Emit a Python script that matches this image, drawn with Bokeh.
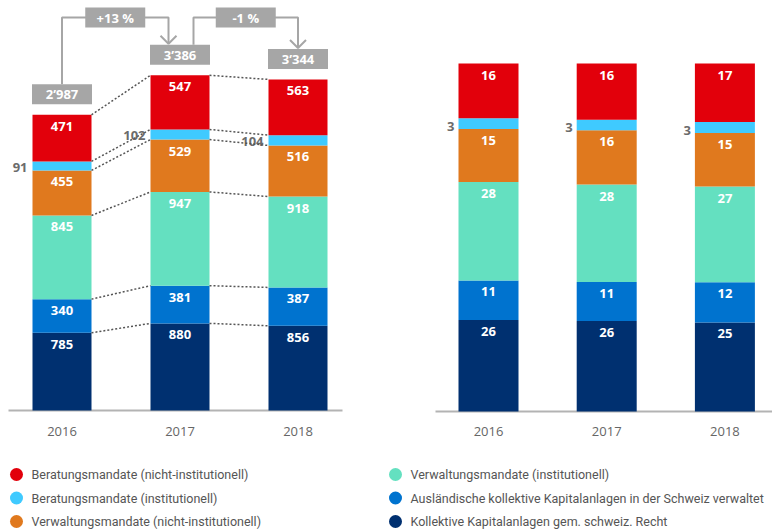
from bokeh.plotting import figure
from bokeh.models import Range1d
from bokeh.embed import file_html
from bokeh.resources import INLINE
from bokeh.core.properties import value

# ---------------- data ----------------
years = ["2016", "2017", "2018"]
names = [
    "Kollektive Kapitalanlagen gem. schweiz. Recht",
    "Ausländische kollektive Kapitalanlagen in der Schweiz verwaltet",
    "Verwaltungsmandate (institutionell)",
    "Verwaltungsmandate (nicht-institutionell)",
    "Beratungsmandate (institutionell)",
    "Beratungsmandate (nicht-institutionell)",
]
colors = ["#003070", "#0073cf", "#64e0c0", "#e0791e", "#3fcaff", "#e2000b"]

navy = [785, 880, 856]
blue = [340, 381, 387]
teal = [845, 947, 918]
orange = [455, 529, 516]
lblue = [91, 102, 104]
red = [471, 547, 563]
values_abs = [navy, blue, teal, orange, lblue, red]

total_labels = ["2’987", "3’386", "3’344"]
growth_labels = ["+13 %", "-1 %"]

pct_navy = [26, 26, 25]
pct_blue = [11, 11, 12]
pct_teal = [28, 28, 27]
pct_orange = [15, 16, 15]
pct_lblue = [3, 3, 3]
pct_red = [16, 16, 17]
pct_labels = [pct_navy, pct_blue, pct_teal, pct_orange, pct_lblue, pct_red]

legend_col1 = [5, 4, 3]
legend_col2 = [2, 1, 0]

# ---------------- layout ----------------
W, H = 772, 529
K = 0.099      # px per unit (left chart)
KR = 3.48      # px per percent (right chart)
BASE_L = 410   # page y of left baseline
BASE_R = 411   # page y of right baseline

def ly(page_y):
    return (BASE_L - page_y) / K

def px(page_x):
    return page_x

p = figure(width=W, height=H, output_backend="svg", toolbar_location=None,
           x_range=Range1d(0, W),
           y_range=Range1d(ly(H), ly(0)),
           min_border=0, outline_line_color=None)
p.extra_y_ranges = {"pct": Range1d(-(H - BASE_R) / KR, BASE_R / KR)}
p.axis.visible = False
p.grid.visible = False
p.background_fill_color = None
p.border_fill_color = "white"

FONT = value("Open Sans")
BAR_W = 59
left_c = [px(61.5) + i * 118 for i in range(3)]
right_c = [px(488) + i * 118.2 for i in range(3)]

# baselines
p.segment(x0=[px(8)], x1=[px(342)], y0=[0], y1=[0], line_color="#b3b3b3", line_width=2)
p.segment(x0=[px(435)], x1=[W], y0=[0], y1=[0], line_color="#b3b3b3", line_width=2,
          y_range_name="pct")

# ---- left stacked bars ----
cum = [[0, 0, 0]]
for s in values_abs:
    cum.append([cum[-1][i] + s[i] for i in range(3)])

for j, s in enumerate(values_abs):
    bottoms = cum[j]
    tops = cum[j + 1]
    p.vbar(x=left_c, width=BAR_W, bottom=bottoms, top=tops,
           fill_color=colors[j], line_color=None)
    if j == 4:
        p.text(x=[c - BAR_W / 2 - 5 for c in left_c],
               y=[(b + t) / 2 - 1.5 / K for b, t in zip(bottoms, tops)],
               text=[str(v) for v in s], text_align="right", text_baseline="middle",
               text_font=FONT, text_font_size="13px", text_font_style="bold",
               text_color="#6b6b6b")
    else:
        p.text(x=left_c, y=[t - 11.5 / K for t in tops],
               text=[str(v) for v in s], text_align="center", text_baseline="middle",
               text_font=FONT, text_font_size="13px", text_font_style="bold",
               text_color="white")

# dotted connectors
for i in range(2):
    x0s, x1s, y0s, y1s = [], [], [], []
    for j in range(1, 7):
        x0s.append(left_c[i] + BAR_W / 2)
        x1s.append(left_c[i + 1] - BAR_W / 2)
        y0s.append(cum[j][i])
        y1s.append(cum[j][i + 1])
    p.segment(x0=x0s, x1=x1s, y0=y0s, y1=y1s, line_color="#555555",
              line_width=1.5, line_dash="2 2")

# total boxes
totals = cum[6]
GAP, BOXH = 10.5, 20
box_bot = [t + GAP / K for t in totals]
box_top = [b + BOXH / K for b in box_bot]
p.quad(left=[c - 30 for c in left_c], right=[c + 30 for c in left_c],
       bottom=box_bot, top=box_top, fill_color="#a6a6a6", line_color=None)
p.text(x=left_c, y=[(b + t) / 2 for b, t in zip(box_bot, box_top)], text=total_labels,
       text_align="center", text_baseline="middle", text_font=FONT,
       text_font_size="13px", text_font_style="bold", text_color="white")

# growth connectors
GREY = "#a6a6a6"
y_h = ly(17)
starts = [left_c[0], left_c[1] + 13.5]
ends = [left_c[1] - 11.5, left_c[2]]
for g in range(2):
    xs, xe = starts[g], ends[g]
    tip = box_top[g + 1] + 1 / K
    p.line(x=[xs, xs, xe, xe], y=[box_top[g], y_h, y_h, tip],
           line_color=GREY, line_width=2)
    p.line(x=[xe - 8, xe, xe + 8], y=[tip + 8 / K, tip, tip + 8 / K],
           line_color=GREY, line_width=2)
    mid = (xs + xe) / 2
    p.quad(left=[mid - 30], right=[mid + 30], bottom=[y_h - 10 / K], top=[y_h + 10 / K],
           fill_color=GREY, line_color=None)
    p.text(x=[mid], y=[y_h], text=[growth_labels[g]], text_align="center",
           text_baseline="middle", text_font=FONT, text_font_size="13px",
           text_font_style="bold", text_color="white")

# ---- right stacked bars (shares) ----
cum_p = [[0.0, 0.0, 0.0]]
for s in values_abs:
    cum_p.append([cum_p[-1][i] + s[i] / totals[i] * 100 for i in range(3)])

for j, lab in enumerate(pct_labels):
    bottoms = cum_p[j]
    tops = cum_p[j + 1]
    p.vbar(x=right_c, width=60, bottom=bottoms, top=tops, fill_color=colors[j],
           line_color=None, y_range_name="pct")
    if j == 4:
        p.text(x=[c - 30 - 4 for c in right_c],
               y=[(b + t) / 2 - 2.5 / KR for b, t in zip(bottoms, tops)],
               text=[str(v) for v in lab], text_align="right", text_baseline="middle",
               text_font=FONT, text_font_size="13px", text_font_style="bold",
               text_color="#6b6b6b", y_range_name="pct")
    else:
        p.text(x=right_c, y=[t - 11.5 / KR for t in tops],
               text=[str(v) for v in lab], text_align="center", text_baseline="middle",
               text_font=FONT, text_font_size="13px", text_font_style="bold",
               text_color="white", y_range_name="pct")

# year labels
p.text(x=left_c + right_c, y=[ly(431)] * 6, text=years + years, text_align="center",
       text_baseline="middle", text_font=FONT, text_font_size="13px",
       text_color="#666666")

# legend
rows_y = [ly(474), ly(497.5), ly(521)]
for col, (cx, idxs) in enumerate([(px(16), legend_col1), (px(395), legend_col2)]):
    p.scatter(x=[cx] * 3, y=rows_y, size=13, marker="circle",
              fill_color=[colors[i] for i in idxs], line_color=None)
    p.text(x=[cx + 15] * 3, y=rows_y, text=[names[i] for i in idxs],
           text_align="left", text_baseline="middle",
           text_font=value("Roboto"), text_font_size="12.5px",
           text_color="#555555")

open("out.html", "w").write(file_html(p, INLINE))
